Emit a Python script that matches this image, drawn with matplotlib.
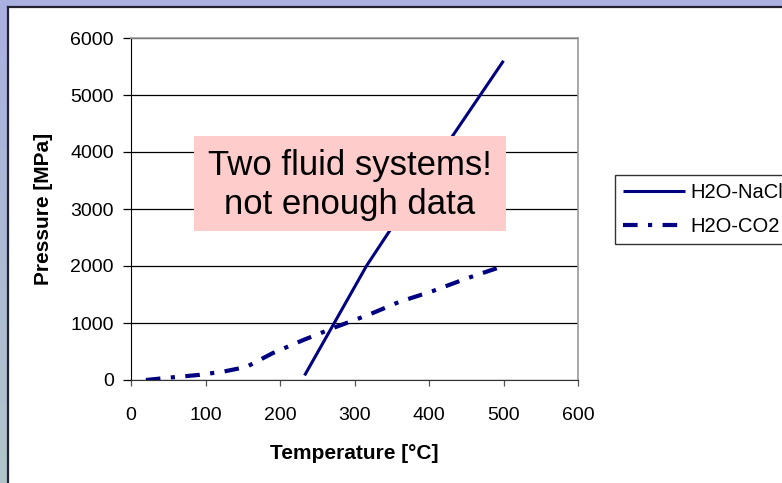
import numpy as np
import matplotlib
matplotlib.use("Agg")
import matplotlib.pyplot as plt
from matplotlib.lines import Line2D
from matplotlib.patches import Rectangle

# values
temp_nacl = [233, 275, 316, 416, 500]
pres_nacl = [80, 1050, 2000, 3980, 5600]

temp_co2 = [20, 50, 92, 125, 155, 190, 231, 273, 320, 360, 405, 450, 500]
pres_co2 = [0, 40, 90, 150, 230, 470, 700, 920, 1150, 1370, 1560, 1780, 2000]

series_names = ["H2O-NaCl", "H2O-CO2"]
x_ticks = [0, 100, 200, 300, 400, 500, 600]
y_ticks = [0, 1000, 2000, 3000, 4000, 5000, 6000]
note_text = "Two fluid systems!\nnot enough data"

W, H = 782, 483
plt.rcParams["font.family"] = ["Liberation Sans", "DejaVu Sans"]

fig = plt.figure(figsize=(W / 100, H / 100), dpi=100, facecolor="white")

# slide background strips (top and left)
top = fig.add_axes([0, 1 - 6.5 / H, 1, 6.5 / H])
top.set_axis_off()
top.add_patch(Rectangle((0, 0), 1, 1, color="#aab0e0"))
left = fig.add_axes([0, 0, 7.5 / W, 1 - 6.5 / H])
left.set_axis_off()
grad = np.linspace(0, 1, 256)[:, None]
cols = np.array([[0.667, 0.69, 0.878], [0.69, 0.77, 0.79]])
img = cols[0] * (1 - grad[..., None]) + cols[1] * grad[..., None]
left.imshow(img, aspect="auto", extent=[0, 1, 0, 1])
fig.add_artist(Line2D([7.5 / W, 1], [1 - 7 / H, 1 - 7 / H], color="#222233", lw=1.6))
fig.add_artist(Line2D([8 / W, 8 / W], [0, 1 - 7 / H], color="#222233", lw=1.6))

ax = fig.add_axes([131 / W, 1 - 380 / H, (578 - 131) / W, (380 - 38) / H])
ax.plot(temp_nacl, pres_nacl, color="#000080", lw=2.2, label=series_names[0],
        solid_capstyle="butt")
ax.plot(temp_co2, pres_co2, color="#000080", lw=3.0, label=series_names[1],
        linestyle=(0, (3.5, 2.5, 1, 2.5)), dash_capstyle="butt")

ax.set_xlim(0, 600)
ax.set_ylim(0, 6000)
ax.set_xticks(x_ticks)
ax.set_yticks(y_ticks)
ax.yaxis.grid(True, color="black", lw=0.9)
ax.set_axisbelow(True)
ax.tick_params(axis="x", direction="out", length=4.5, width=0.9, pad=15,
               labelsize=14, color="#555555")
ax.tick_params(axis="y", direction="out", length=5.5, width=0.9, pad=7,
               labelsize=14)
for s in ["top", "right"]:
    ax.spines[s].set_color("#999999")
    ax.spines[s].set_linewidth(1.2)
ax.spines["left"].set_color("black")
ax.spines["bottom"].set_color("#333333")

ax.set_xlabel("Temperature [°C]", fontsize=15, fontweight="bold", labelpad=14)
ax.set_ylabel("Pressure [MPa]", fontsize=15, fontweight="bold", labelpad=12)

leg = ax.legend(loc="upper left", bbox_to_anchor=(615 / W, 1 - 175 / H),
                bbox_transform=fig.transFigure, borderaxespad=0, fontsize=14.5,
                frameon=True, fancybox=False, edgecolor="black",
                handlelength=3.1, handletextpad=0.25, borderpad=0.4,
                labelspacing=0.72)
leg.get_frame().set_linewidth(1.0)
leg.set_clip_on(False)

# pink note box
fig.add_artist(Rectangle((194 / W, 1 - 231 / H), (506 - 194) / W, (231 - 136) / H,
                         transform=fig.transFigure, facecolor="#ffcccc",
                         edgecolor="none", zorder=5))
fig.text(350 / W, 1 - 185 / H, note_text, ha="center", va="center",
         fontsize=25, linespacing=1.2, zorder=6)

fig.savefig("out.png", dpi=100, facecolor="white")
